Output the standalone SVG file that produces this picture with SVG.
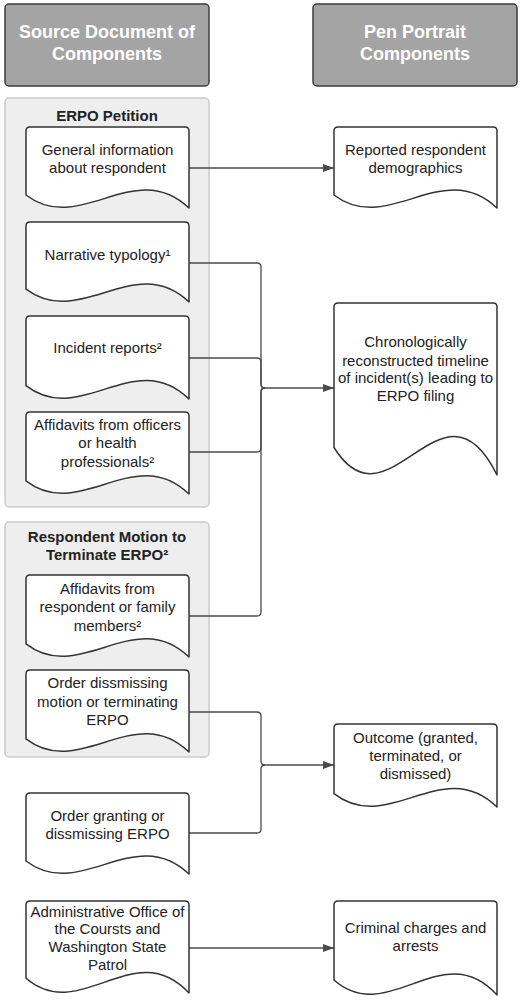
<svg xmlns="http://www.w3.org/2000/svg" width="522" height="1001" viewBox="0 0 522 1001">
<defs>
<style>
.hdr{fill:#a4a4a4;stroke:#3d3d3d;stroke-width:1.5}
.hdrt{font-family:"Liberation Sans",Arial,sans-serif;font-size:18px;font-weight:bold;fill:#ffffff;text-anchor:middle}
.cont{fill:#eeeeee;stroke:#cccccc;stroke-width:1.5}
.ct{font-family:"Liberation Sans",Arial,sans-serif;font-size:15px;font-weight:bold;fill:#222222;text-anchor:middle}
.doc{fill:#ffffff;stroke:#333333;stroke-width:1.5;stroke-linejoin:round}
.t{font-family:"Liberation Sans",Arial,sans-serif;font-size:15px;fill:#222222;text-anchor:middle}
.c{fill:none;stroke:#4a4a4a;stroke-width:1.3}
</style>
<marker id="ah" markerUnits="userSpaceOnUse" markerWidth="11" markerHeight="8" refX="11" refY="4" orient="auto">
<path d="M0,0 L11,4 L0,8 Z" fill="#4a4a4a"/>
</marker>
</defs>
<rect width="522" height="1001" fill="#ffffff"/>

<g id="header-source">
<rect class="hdr" x="5" y="4" width="204" height="82" rx="4"/>
<text class="hdrt" x="107" y="38">Source Document of</text>
<text class="hdrt" x="107" y="60">Components</text>
</g>
<g id="header-pen">
<rect class="hdr" x="313" y="4" width="204" height="82" rx="4"/>
<text class="hdrt" x="415" y="38">Pen Portrait</text>
<text class="hdrt" x="415" y="60">Components</text>
</g>

<g id="erpo-petition">
<rect class="cont" x="5" y="98" width="204" height="409" rx="4"/>
<text class="ct" x="107" y="121">ERPO Petition</text>
</g>
<g id="respondent-motion">
<rect class="cont" x="5" y="522" width="204" height="235" rx="4"/>
<text class="ct" x="107" y="542">Respondent Motion to</text>
<text class="ct" x="107" y="560">Terminate ERPO²</text>
</g>

<g id="connectors">
<path class="c" d="M189,168 H334" marker-end="url(#ah)"/>
<path class="c" d="M189,263 H257 Q261,263 261,267 V384 Q261,388 265,388"/>
<path class="c" d="M189,358 H257 Q261,358 261,362 V384 Q261,388 265,388"/>
<path class="c" d="M189,452 H257 Q261,452 261,448 V392 Q261,388 265,388"/>
<path class="c" d="M189,616 H257 Q261,616 261,612 V392 Q261,388 265,388"/>
<path class="c" d="M265,388 H334" marker-end="url(#ah)"/>
<path class="c" d="M189,712 H257 Q261,712 261,716 V761 Q261,765 265,765"/>
<path class="c" d="M189,833 H257 Q261,833 261,829 V769 Q261,765 265,765"/>
<path class="c" d="M265,765 H334" marker-end="url(#ah)"/>
<path class="c" d="M189,948 H334" marker-end="url(#ah)"/>
</g>

<g id="general-info">
<path class="doc" d="M26,195 V131 Q26,127 30,127 H185 Q189,127 189,131 V208 C134.7,156.2 80.3,236.4 26,195 Z"/>
<text class="t" x="107.5" y="155">General information</text>
<text class="t" x="107.5" y="173">about respondent</text>
</g>
<g id="narrative-typology">
<path class="doc" d="M26,289.2 V226 Q26,222 30,222 H185 Q189,222 189,226 V302 C134.7,250.8 80.3,330 26,289.2 Z"/>
<text class="t" x="107.5" y="260">Narrative typology¹</text>
</g>
<g id="incident-reports">
<path class="doc" d="M26,385.7 V320 Q26,316 30,316 H185 Q189,316 189,320 V399 C134.7,345.9 80.3,428 26,385.7 Z"/>
<text class="t" x="107.5" y="353">Incident reports²</text>
</g>
<g id="affidavits-officers">
<path class="doc" d="M26,480.9 V416 Q26,412 30,412 H185 Q189,412 189,416 V494 C134.7,441.5 80.3,522.7 26,480.9 Z"/>
<text class="t" x="107.5" y="430">Affidavits from officers</text>
<text class="t" x="107.5" y="448">or health</text>
<text class="t" x="107.5" y="467">professionals²</text>
</g>
<g id="affidavits-respondent">
<path class="doc" d="M26,643.9 V579 Q26,575 30,575 H185 Q189,575 189,579 V657 C134.7,604.5 80.3,685.7 26,643.9 Z"/>
<text class="t" x="107.5" y="594">Affidavits from</text>
<text class="t" x="107.5" y="612">respondent or family</text>
<text class="t" x="107.5" y="631">members²</text>
</g>
<g id="order-dismissing-motion">
<path class="doc" d="M26,738.9 V674 Q26,670 30,670 H185 Q189,670 189,674 V752 C134.7,699.5 80.3,780.7 26,738.9 Z"/>
<text class="t" x="107.5" y="688">Order dissmissing</text>
<text class="t" x="107.5" y="707">motion or terminating</text>
<text class="t" x="107.5" y="725">ERPO</text>
</g>
<g id="order-granting">
<path class="doc" d="M26,861 V797 Q26,793 30,793 H185 Q189,793 189,797 V874 C134.7,822.2 80.3,902.4 26,861 Z"/>
<text class="t" x="107.5" y="821">Order granting or</text>
<text class="t" x="107.5" y="839">dissmissing ERPO</text>
</g>
<g id="admin-office">
<path class="doc" d="M26,978.3 V905 Q26,901 30,901 H185 Q189,901 189,905 V993 C134.7,934.1 80.3,1025.2 26,978.3 Z"/>
<text class="t" x="107.5" y="917">Administrative Office of</text>
<text class="t" x="107.5" y="934">the Coursts and</text>
<text class="t" x="107.5" y="952">Washington State</text>
<text class="t" x="107.5" y="970">Patrol</text>
</g>

<g id="demographics">
<path class="doc" d="M334,195 V131 Q334,127 338,127 H493 Q497,127 497,131 V208 C442.7,156.2 388.3,236.4 334,195 Z"/>
<text class="t" x="415.5" y="155">Reported respondent</text>
<text class="t" x="415.5" y="173">demographics</text>
</g>
<g id="timeline">
<path class="doc" d="M334,447.5 V307 Q334,303 338,303 H493 Q497,303 497,307 V475 C442.7,364.9 388.3,535.2 334,447.5 Z"/>
<text class="t" x="415.5" y="347">Chronologically</text>
<text class="t" x="415.5" y="366">reconstructed timeline</text>
<text class="t" x="415.5" y="383">of incident(s) leading to</text>
<text class="t" x="415.5" y="401">ERPO filing</text>
</g>
<g id="outcome">
<path class="doc" d="M334,793.7 V728 Q334,724 338,724 H493 Q497,724 497,728 V807 C442.7,753.9 388.3,836 334,793.7 Z"/>
<text class="t" x="415.5" y="743">Outcome (granted,</text>
<text class="t" x="415.5" y="761">terminated, or</text>
<text class="t" x="415.5" y="779">dismissed)</text>
</g>
<g id="criminal-charges">
<path class="doc" d="M334,980 V905 Q334,901 338,901 H493 Q497,901 497,905 V995 C442.7,934.8 388.3,1027.9 334,980 Z"/>
<text class="t" x="415.5" y="933">Criminal charges and</text>
<text class="t" x="415.5" y="951">arrests</text>
</g>
</svg>
